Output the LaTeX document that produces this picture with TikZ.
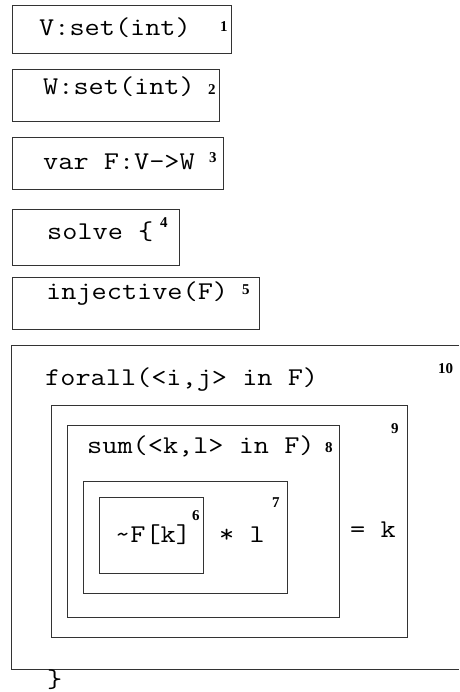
\documentclass[tikz,border=0pt]{standalone}
\usepackage{fontspec}
\newfontfamily\codefont[FakeStretch=1.15]{Latin Modern Mono}
\newfontfamily\numfont{Liberation Serif}
\begin{document}
\begin{tikzpicture}[x=1pt,y=-1pt,
  box/.style={draw=black!80,line width=0.9pt},
  code/.style={inner sep=0pt,anchor=base west,font=\codefont\fontsize{25.6}{30}\selectfont},
  num/.style={inner sep=0pt,anchor=north west,font=\numfont\bfseries\fontsize{15}{16}\selectfont}]
\useasboundingbox (0,0) rectangle (459,692);
% top boxes
\draw[box] (12,5) rectangle (231,53);
\node[code] (t1) at (39,36) {V:set(int)};
\node[num] (n1) at (220,21) {1};
\draw[box] (12,69) rectangle (219,121);
\node[code] (t2) at (43,95) {W:set(int)};
\node[num] (n2) at (208,84) {2};
\draw[box] (12,137) rectangle (223,189);
\node[code] (t3) at (43,170) {var F:V->W};
\node[num] (n3) at (209,152) {3};
\draw[box] (12,209) rectangle (179,265);
\node[code] (t4) at (47,240) {solve \{};
\node[num] (n4) at (160,217) {4};
\draw[box] (12,277) rectangle (259,329);
\node[code] (t5) at (46,299) {injective(F)};
\node[num] (n5) at (242,284) {5};
% big open box
\draw[box] (459,345) -- (11,345) -- (11,669) -- (459,669);
\node[code] (t10) at (45,385) {forall(<i,j> in F)};
\node[num] (n10) at (438,363) {10};
\draw[box] (51,405) rectangle (407,637);
\node[num] (n9) at (391,423) {9};
\draw[box] (67,425) rectangle (339,617);
\node[code] (t8) at (87,453) {sum(<k,l> in F)};
\node[num] (n8) at (325,442) {8};
\draw[box] (83,481) rectangle (287,593);
\node[num] (n7) at (272,497) {7};
\draw[box] (99,497) rectangle (203,573);
\node[code] (t6) at (115,542) {\textasciitilde F[k]};
\node[num] (n6) at (192,510) {6};
\node[code] (t7) at (219,542) {* l};
\node[code] (t9) at (350,537) {= k};
\node[code,anchor=north west] (close) at (47,670) {\}};
\end{tikzpicture}
\end{document}
